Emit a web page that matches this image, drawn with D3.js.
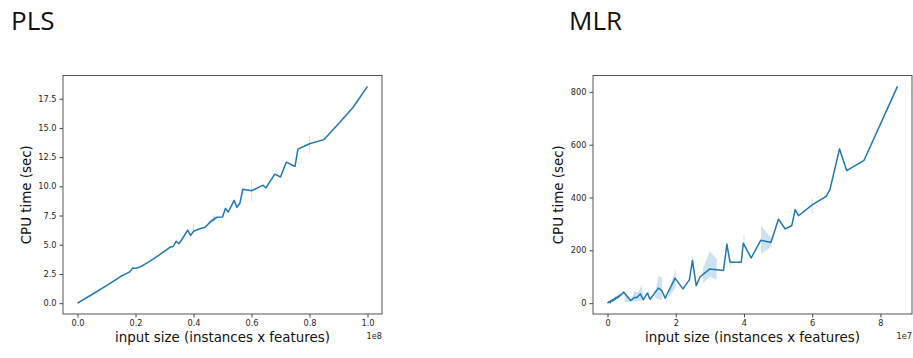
<!DOCTYPE html>
<html>
<head>
<meta charset="utf-8">
<script src="https://cdn.jsdelivr.net/npm/d3@7"></script>
<style>
  body { margin: 0; background: #fff; }
  svg { display: block; }
  .tick text { fill: #262626; }
</style>
</head>
<body>
<div id="chart"></div>
<script>
// PLS panel: input size (raw) and mean CPU time (sec)
const plsX = [0, 0.05, 0.1, 0.15, 0.17, 0.18, 0.19, 0.2, 0.21, 0.22, 0.25, 0.28, 0.32, 0.33,
  0.34, 0.35, 0.36, 0.38, 0.39, 0.40, 0.42, 0.44, 0.46, 0.48, 0.50, 0.51, 0.52, 0.54, 0.55,
  0.56, 0.57, 0.60, 0.64, 0.65, 0.68, 0.70, 0.72, 0.75, 0.76, 0.80, 0.85, 0.90, 0.95, 1.0].map(v => v * 1e8);
const plsY = [0, 0.74, 1.5, 2.3, 2.55, 2.68, 3.0, 2.98, 3.05, 3.15, 3.6, 4.1, 4.8, 4.85,
  5.3, 5.1, 5.45, 6.25, 5.8, 6.15, 6.35, 6.5, 7.0, 7.35, 7.38, 8.1, 7.8, 8.8, 8.2,
  8.55, 9.75, 9.62, 10.1, 9.86, 11.05, 10.8, 12.07, 11.7, 13.18, 13.65, 14.0, 15.35, 16.75, 18.56];
// confidence intervals: single-x bars [x, lo, hi] and small bands [[x, lo, hi], ...]
const plsCIBars = [[0.34e8, 5.05, 5.5], [0.40e8, 5.95, 6.75], [0.47e8, 7.0, 7.55], [0.60e8, 8.7, 10.6], [0.80e8, 12.85, 14.3]];
const plsCIBands = [
  [[0.45e8, 6.8, 6.9], [0.47e8, 6.95, 7.45], [0.48e8, 7.25, 7.45]]
];
const plsXTicks = [0, 0.2e8, 0.4e8, 0.6e8, 0.8e8, 1.0e8];
const plsYTicks = [0, 2.5, 5, 7.5, 10, 12.5, 15, 17.5];

// MLR panel
const mlrX = [0, 0.05, 0.08, 0.1, 0.13, 0.15, 0.18, 0.2, 0.23, 0.25, 0.28, 0.3, 0.33, 0.35, 0.38,
  0.4, 0.44, 0.47, 0.68, 0.79, 0.86, 0.96, 1.05, 1.17, 1.25, 1.49, 1.59, 1.69, 1.98, 2.21,
  2.40, 2.49, 2.60, 2.71, 2.99, 3.40, 3.50, 3.59, 3.92, 3.98, 4.21, 4.49, 4.79, 5.01, 5.21,
  5.40, 5.50, 5.60, 6.00, 6.41, 6.52, 6.80, 7.01, 7.52, 8.5].map(v => v * 1e7);
const mlrY = [0, 6, 2, 10, 7, 14, 10, 18, 15, 22, 19, 26, 23, 30, 28,
  34, 36, 42, 10, 21, 21, 35, 13, 38, 15, 57, 48, 19, 95, 54,
  88, 162, 66, 99, 129, 124, 224, 155, 155, 227, 171, 238, 230, 318, 281,
  293, 354, 331, 372, 404, 430, 584, 502, 541, 821];
const mlrCIBars = [[1.2e7, 15, 50], [2.5e7, 130, 175], [3.6e7, 135, 170], [4.0e7, 212, 260], [6.0e7, 341, 398]];
const mlrCIBands = [
  [[0.5e7, 4, 40], [0.7e7, 4, 14], [0.78e7, 6, 45], [0.9e7, 8, 40], [1.0e7, 10, 70], [1.05e7, 13, 13]],
  [[1.4e7, 20, 45], [1.5e7, 14, 104], [1.6e7, 13, 95]],
  [[1.78e7, 19, 25], [2.0e7, 60, 133]],
  [[2.8e7, 76, 133], [3.0e7, 100, 196], [3.2e7, 90, 167]],
  [[4.5e7, 186, 293], [4.8e7, 213, 248]]
];
const mlrXTicks = [0, 2e7, 4e7, 6e7, 8e7];
const mlrYTicks = [0, 200, 400, 600, 800];

const width = 913, height = 358;
const blue = "#1f77b4";
const tickFont = "'DejaVu Sans', sans-serif";

const svg = d3.select("#chart").append("svg")
  .attr("width", width)
  .attr("height", height);

// matplotlib-like 5% padding
function padded(ext) {
  const m = (ext[1] - ext[0]) * 0.05;
  return [ext[0] - m, ext[1] + m];
}

function drawPanel(cfg) {
  const xs = cfg.xs, ys = cfg.ys;
  const ciVals = cfg.bars.flatMap(b => [b[1], b[2]])
    .concat(cfg.bands.flatMap(b => b.flatMap(p => [p[1], p[2]])));

  const x = d3.scaleLinear()
    .domain(padded(d3.extent(xs)))
    .range([cfg.left, cfg.right]);
  const y = d3.scaleLinear()
    .domain(padded(d3.extent(ys.concat(ciVals))))
    .range([cfg.bottom, cfg.top]);

  const g = svg.append("g");

  // title
  svg.append("text")
    .attr("x", cfg.titleX)
    .attr("y", 30)
    .attr("font-family", "'Open Sans', 'Noto Sans', sans-serif")
    .attr("font-size", 26)
    .attr("fill", "#111")
    .text(cfg.title);

  // CI bands
  const area = d3.area()
    .x(d => x(d[0]))
    .y0(d => y(d[1]))
    .y1(d => y(d[2]));
  g.selectAll(".band")
    .data(cfg.bands)
    .enter()
    .append("path")
    .attr("d", area)
    .attr("fill", blue)
    .attr("fill-opacity", 0.22);

  g.selectAll(".cibar")
    .data(cfg.bars)
    .enter()
    .append("line")
    .attr("x1", d => x(d[0]))
    .attr("x2", d => x(d[0]))
    .attr("y1", d => y(d[1]))
    .attr("y2", d => y(d[2]))
    .attr("stroke", blue)
    .attr("stroke-opacity", 0.2)
    .attr("stroke-width", 1);

  // mean line
  const line = d3.line()
    .x(d => x(d[0]))
    .y(d => y(d[1]));
  g.append("path")
    .datum(d3.zip(xs, ys))
    .attr("d", line)
    .attr("fill", "none")
    .attr("stroke", blue)
    .attr("stroke-width", 1.5)
    .attr("stroke-linejoin", "round");

  // axes
  const xAxis = g.append("g")
    .attr("transform", "translate(0," + cfg.bottom + ")")
    .call(d3.axisBottom(x)
      .tickValues(cfg.xTicks)
      .tickSize(3.5)
      .tickPadding(3)
      .tickFormat(cfg.xFmt));
  const yAxis = g.append("g")
    .attr("transform", "translate(" + cfg.left + ",0)")
    .call(d3.axisLeft(y)
      .tickValues(cfg.yTicks)
      .tickSize(3.5)
      .tickPadding(3)
      .tickFormat(cfg.yFmt));
  [xAxis, yAxis].forEach(a => {
    a.select(".domain").remove();
    a.attr("font-family", tickFont).attr("font-size", 8.2);
    a.selectAll(".tick line").attr("stroke", "#333").attr("stroke-width", 0.9);
  });

  // frame
  g.append("rect")
    .attr("x", cfg.left)
    .attr("y", cfg.top)
    .attr("width", cfg.right - cfg.left)
    .attr("height", cfg.bottom - cfg.top)
    .attr("fill", "none")
    .attr("stroke", "#444")
    .attr("stroke-width", 0.9);

  // offset label (1e8 / 1e7)
  g.append("text")
    .attr("x", cfg.right)
    .attr("y", cfg.bottom + 24.5)
    .attr("text-anchor", "end")
    .attr("font-family", tickFont)
    .attr("font-size", 8.2)
    .attr("fill", "#262626")
    .text(cfg.offset);

  // axis labels
  g.append("text")
    .attr("x", (cfg.left + cfg.right) / 2)
    .attr("y", 342)
    .attr("text-anchor", "middle")
    .attr("font-family", tickFont)
    .attr("font-size", 13.4)
    .attr("fill", "#111")
    .text("input size (instances x features)");
  g.append("text")
    .attr("transform", "translate(" + cfg.yLabelX + "," + ((cfg.top + cfg.bottom) / 2) + ") rotate(-90)")
    .attr("text-anchor", "middle")
    .attr("font-family", tickFont)
    .attr("font-size", 13.4)
    .attr("fill", "#111")
    .text("CPU time (sec)");
}

drawPanel({
  title: "PLS", titleX: 11,
  xs: plsX, ys: plsY, bars: plsCIBars, bands: plsCIBands,
  xTicks: plsXTicks, yTicks: plsYTicks,
  xFmt: d => (d / 1e8).toFixed(1), yFmt: d => d.toFixed(1),
  offset: "1e8",
  left: 63, right: 382, top: 75.5, bottom: 314, yLabelX: 31
});

drawPanel({
  title: "MLR", titleX: 569,
  xs: mlrX, ys: mlrY, bars: mlrCIBars, bands: mlrCIBands,
  xTicks: mlrXTicks, yTicks: mlrYTicks,
  xFmt: d => String(d / 1e7), yFmt: d => String(d),
  offset: "1e7",
  left: 593, right: 912, top: 75.5, bottom: 314, yLabelX: 563
});
</script>
</body>
</html>
